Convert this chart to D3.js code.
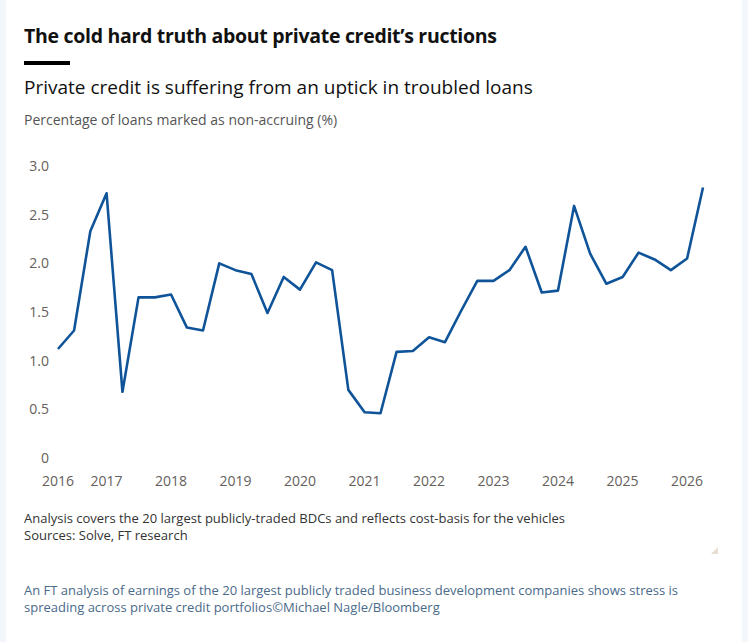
<!DOCTYPE html>
<html><head><meta charset="utf-8">
<script src="https://cdn.jsdelivr.net/npm/d3@7"></script>
<style>
body{margin:0;background:#f3f6fa;font-family:"Open Sans",sans-serif}
</style></head>
<body>
<script>
// quarterly non-accrual rate, 2016 Q2 .. 2026 Q2
const startQuarter="2016-04-01"
const values=[1.12,1.31,2.33,2.72,0.68,1.65,1.65,1.68,1.34,1.31,
	2.00,1.93,1.89,1.49,1.86,1.73,2.01,1.93,0.70,0.47,
	0.46,1.09,1.10,1.24,1.19,1.51,1.82,1.82,1.93,2.17,
	1.70,1.72,2.59,2.10,1.79,1.86,2.11,2.04,1.93,2.05,2.78]
const yTicks=[0,0.5,1.0,1.5,2.0,2.5,3.0]
const yearTicks=[2017,2018,2019,2020,2021,2022,2023,2024,2025,2026]

const W=748,H=642
const svg=d3.select("body").append("svg").attr("width",W).attr("height",H).style("display","block")
svg.append("rect").attr("x",6).attr("y",0).attr("width",736).attr("height",H).attr("fill","#fff")

const t0=new Date(startQuarter)
const dates=values.map((v,i)=>d3.timeMonth.offset(t0,i*3))
const data=values.map((v,i)=>({date:dates[i],v:v}))

const x=d3.scaleTime().domain(d3.extent(dates)).range([58,703])
const y=d3.scaleLinear().domain([0,3]).range([458,166])

svg.append("text").attr("x",24).attr("y",43).text("The cold hard truth about private credit’s ructions")
	.attr("font-size",19.5).attr("font-weight",700).attr("fill","#111").attr("letter-spacing",-0.3)
svg.append("rect").attr("x",24).attr("y",61).attr("width",46).attr("height",4).attr("fill","#000")
svg.append("text").attr("x",24).attr("y",94).text("Private credit is suffering from an uptick in troubled loans")
	.attr("font-size",19).attr("fill","#111")
svg.append("text").attr("x",24).attr("y",125).text("Percentage of loans marked as non-accruing (%)")
	.attr("font-size",14).attr("fill","#555")

const g=svg.append("g").attr("font-size",14).attr("fill","#66605c")
g.selectAll(".yt").data(yTicks).join("text")
	.attr("x",49).attr("y",d=>y(d)+5).attr("text-anchor","end")
	.text(d=>d==0?"0":d3.format(".1f")(d))
g.append("text").attr("x",42).attr("y",486).text("2016")
g.selectAll(".xt").data(yearTicks).join("text")
	.attr("x",d=>x(new Date(d,0,1))).attr("y",486).attr("text-anchor","middle").text(d=>d)

svg.append("path").datum(data)
	.attr("d",d3.line().x(d=>x(d.date)).y(d=>y(d.v)))
	.attr("fill","none").attr("stroke","#0f5499").attr("stroke-width",2.6).attr("stroke-linejoin","round")

const f=svg.append("g").attr("font-size",13).attr("fill","#333")
f.append("text").attr("x",24).attr("y",523).text("Analysis covers the 20 largest publicly-traded BDCs and reflects cost-basis for the vehicles")
f.append("text").attr("x",24).attr("y",540).text("Sources: Solve, FT research")

svg.append("path").attr("d","M718,547 L718,554 L711,554 Z").attr("fill","#e8ddd0")

const c=svg.append("g").attr("font-size",13).attr("fill","#4a6a8a")
c.append("text").attr("x",24).attr("y",595).text("An FT analysis of earnings of the 20 largest publicly traded business development companies shows stress is")
c.append("text").attr("x",24).attr("y",612).text("spreading across private credit portfolios©Michael Nagle/Bloomberg")
</script>
</body></html>
